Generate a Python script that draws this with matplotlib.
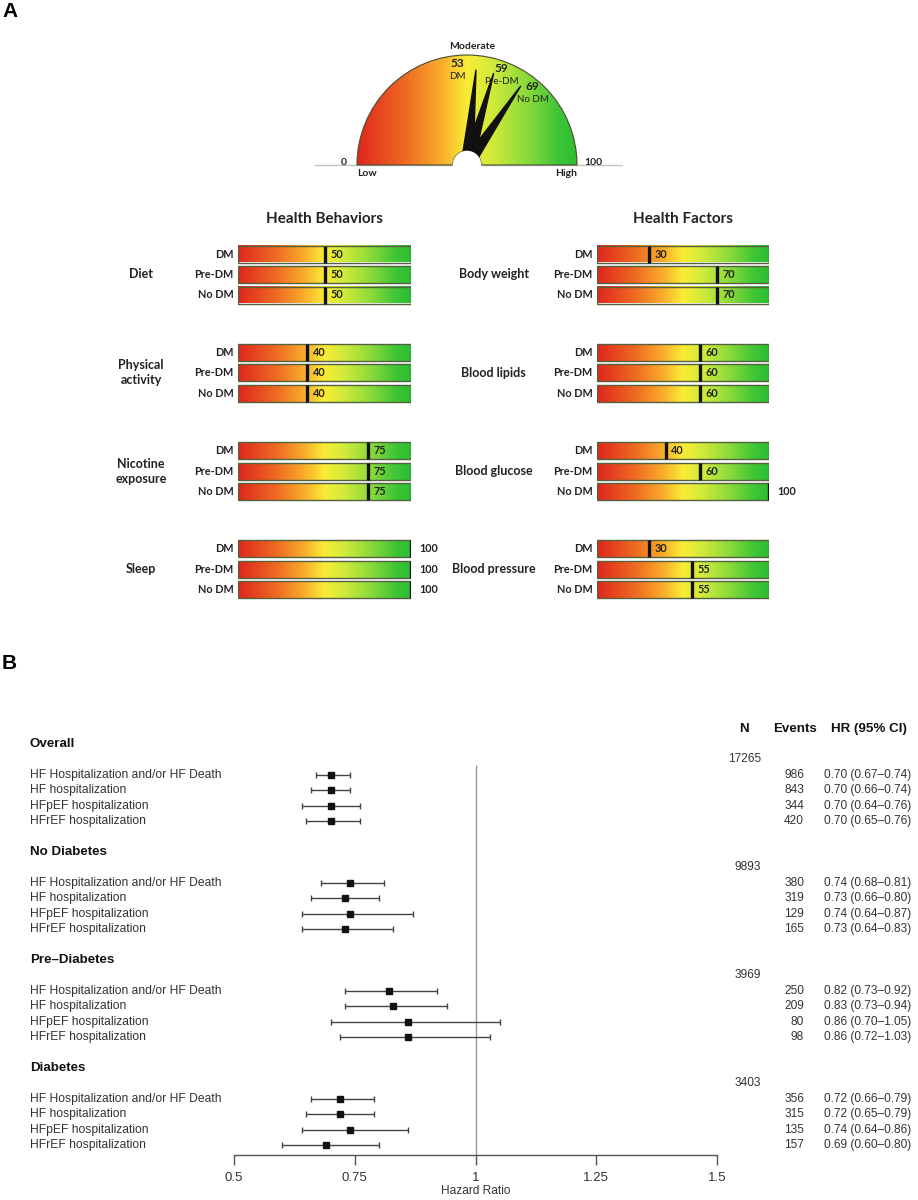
import numpy as np
import matplotlib
matplotlib.use('Agg')
import matplotlib.pyplot as plt
import matplotlib.transforms as mtransforms
from matplotlib.colors import LinearSegmentedColormap
from matplotlib.patches import Wedge, Circle

plt.rcParams['font.family'] = ['Liberation Sans', 'DejaVu Sans']

# panel A data
groups = ['DM', 'Pre-DM', 'No DM']
gauge_scores = [53, 59, 69]

behaviors = ['Diet', 'Physical\nactivity', 'Nicotine\nexposure', 'Sleep']
behavior_scores = [[50, 50, 50], [40, 40, 40], [75, 75, 75], [100, 100, 100]]

factors = ['Body weight', 'Blood lipids', 'Blood glucose', 'Blood pressure']
factor_scores = [[30, 70, 70], [60, 60, 60], [40, 60, 100], [30, 55, 55]]

# panel B data
sections = ['Overall', 'No Diabetes', 'Pre–Diabetes', 'Diabetes']
section_n = [17265, 9893, 3969, 3403]
outcomes = ['HF Hospitalization and/or HF Death', 'HF hospitalization',
            'HFpEF hospitalization', 'HFrEF hospitalization']
hr = [[0.70, 0.70, 0.70, 0.70], [0.74, 0.73, 0.74, 0.73],
      [0.82, 0.83, 0.86, 0.86], [0.72, 0.72, 0.74, 0.69]]
hr_lo = [[0.67, 0.66, 0.64, 0.65], [0.68, 0.66, 0.64, 0.64],
         [0.73, 0.73, 0.70, 0.72], [0.66, 0.65, 0.64, 0.60]]
hr_hi = [[0.74, 0.74, 0.76, 0.76], [0.81, 0.80, 0.87, 0.83],
         [0.92, 0.94, 1.05, 1.03], [0.79, 0.79, 0.86, 0.80]]
events = [[986, 843, 344, 420], [380, 319, 129, 165],
          [250, 209, 80, 98], [356, 315, 135, 157]]
hr_ticks = [0.5, 0.75, 1, 1.25, 1.5]

W, H = 918, 1200
fig = plt.figure(figsize=(W / 100, H / 100), dpi=100)


def box(x0, y0, x1, y1):
    # axes placed by pixel box, y measured from the top
    return fig.add_axes([x0 / W, 1 - y1 / H, (x1 - x0) / W, (y1 - y0) / H])


cmap = LinearSegmentedColormap.from_list('score', [
    (0.0, '#df261d'), (0.22, '#ee6a22'), (0.38, '#f9ab2c'), (0.5, '#faec36'),
    (0.62, '#cfea3a'), (0.78, '#86d93a'), (0.92, '#3cc536'), (1.0, '#2dbd33')])
grad = np.linspace(0, 1, 256).reshape(1, -1)
lato = dict(family=['Lato', 'DejaVu Sans'], color='#222222')

fig.text(2 / W, 1 - 2 / H, 'A', fontsize=15, fontweight='bold', va='top', ha='left')
fig.text(2 / W, 1 - 654 / H, 'B', fontsize=15, fontweight='bold', va='top', ha='left')

# ---- gauge ----
gax = box(307, 35, 627, 185)
gax.set_xlim(-160 / 110, 160 / 110)
gax.set_ylim(-20 / 110, 130 / 110)
gax.axis('off')
gax.axhline(0, xmin=0.025, xmax=0.985, color='#c4c4c4', lw=1, zorder=0)
ring = Wedge((0, 0), 1, 0, 180, width=0.87, transform=gax.transData)
img = gax.imshow(grad, cmap=cmap, extent=(-1, 1, 0, 1), aspect='auto', origin='lower', zorder=1)
img.set_clip_path(ring)
gax.add_patch(Wedge((0, 0), 1, 0, 180, width=0.87, fill=False, edgecolor='#4a4a30', lw=0.8, zorder=2))

label_shift = [11, -3.4, -5.6]
for v, grp, sh in zip(gauge_scores, groups, label_shift):
    a = np.deg2rad(180 - 1.8 * v)
    tip = 0.87 * np.array([np.cos(a), np.sin(a)])
    perp = 0.055 * np.array([np.sin(a), -np.cos(a)])
    pts = np.array([tip, perp, -perp])
    gax.fill(pts[:, 0], pts[:, 1], color='#111111', zorder=3)
    b = np.deg2rad(180 - 1.8 * v + sh)
    lx, ly = 0.93 * np.cos(b), 0.93 * np.sin(b)
    gax.text(lx, ly, str(v), ha='center', va='center', fontsize=8.5, fontweight='bold', **lato)
    gax.text(lx, ly - 0.12, grp, ha='center', va='center', fontsize=7, **lato)
gax.add_patch(Circle((0, 0), 0.13, facecolor='white', edgecolor='none', zorder=4))

gax.text(-1.09, 0.02, '0', ha='right', va='center', fontsize=7.5, fontweight='bold', **lato)
gax.text(1.07, 0.02, '100', ha='left', va='center', fontsize=7.5, fontweight='bold', **lato)
gax.text(-1.0, -0.08, 'Low', ha='left', va='center', fontsize=7.5, fontweight='bold', **lato)
gax.text(1.0, -0.08, 'High', ha='right', va='center', fontsize=7.5, fontweight='bold', **lato)
gax.text(0.05, 1.08, 'Moderate', ha='center', va='center', fontsize=7.5, fontweight='bold', **lato)


# ---- score bars ----
def bar_column(x0, x1, title, domains, scores, dom_x):
    ax = box(x0, 230, x1, 610)
    for g, (dom, vals) in enumerate(zip(domains, scores)):
        top = 254 + g * 98.3
        for r, (grp, v) in enumerate(zip(groups, vals)):
            y = top + r * 20.5
            ax.imshow(grad, cmap=cmap, extent=(0, 100, y + 8.5, y - 8.5), aspect='auto')
            ax.barh(y, 100, height=17, fill=False, edgecolor='#55603f', lw=1)
            ax.vlines(v, y - 8.5, y + 8.5, color='#111111', lw=2.4)
            off = 4 if v < 100 else 6
            ax.annotate(str(v), (v, y), xytext=(off, 0), textcoords='offset points',
                        ha='left', va='center', fontsize=7.8, fontweight='bold', **lato)
            ax.text(-2.5, y, grp, ha='right', va='center', fontsize=7.8, fontweight='bold', **lato)
        ax.text(dom_x, top + 20.5, dom, ha='center', va='center', fontsize=9,
                fontweight='bold', linespacing=1.3, **lato)
    ax.text(50, 219, title, ha='center', va='center', fontsize=11, fontweight='bold', **lato)
    ax.set_xlim(0, 100)
    ax.set_ylim(610, 230)
    ax.axis('off')


bar_column(238, 411, 'Health Behaviors', behaviors, behavior_scores, -56)
bar_column(597, 769, 'Health Factors', factors, factor_scores, -60)

# ---- forest plot ----
fax = box(234, 700, 717, 1155)
fax.set_xlim(0.5, 1.5)
fax.set_ylim(26.64, -2.85)
trans = mtransforms.blended_transform_factory(fig.transFigure, fax.transData)

fax.vlines(1, 1.36, 26.64, color='#9a9a9a', lw=1, zorder=0)
for s, name in enumerate(sections):
    base = 7 * s
    fax.text(30 / W, base, name, transform=trans, ha='left', va='center',
             fontsize=9.6, fontweight='bold', color='#111111')
    fax.text(761 / W, base + 1, str(section_n[s]), transform=trans, ha='right',
             va='center', fontsize=8.6, color='#333333')
    ys = base + 2 + np.arange(4)
    h = np.array(hr[s])
    fax.errorbar(h, ys, xerr=[h - np.array(hr_lo[s]), np.array(hr_hi[s]) - h],
                 fmt='s', color='#111111', ecolor='#444444', elinewidth=1,
                 capsize=2, capthick=1, markersize=5)
    for i, out in enumerate(outcomes):
        fax.text(30 / W, ys[i], out, transform=trans, ha='left', va='center',
                 fontsize=8.7, color='#333333')
        fax.text(804 / W, ys[i], str(events[s][i]), transform=trans, ha='right',
                 va='center', fontsize=8.6, color='#333333')
        fax.text(824 / W, ys[i], f'{hr[s][i]:.2f} ({hr_lo[s][i]:.2f}–{hr_hi[s][i]:.2f})',
                 transform=trans, ha='left', va='center', fontsize=8.6, color='#333333')

for x, lab in [(744, 'N'), (795, 'Events'), (869, 'HR (95% CI)')]:
    fax.text(x / W, -0.97, lab, transform=trans, ha='center', va='center',
             fontsize=9.6, fontweight='bold', color='#111111')

for side in ['top', 'left', 'right']:
    fax.spines[side].set_visible(False)
fax.spines['bottom'].set_color('#555555')
fax.spines['bottom'].set_linewidth(1)
fax.set_yticks([])
fax.set_xticks(hr_ticks)
fax.set_xticklabels([f'{t:g}' for t in hr_ticks])
fax.tick_params(axis='x', length=7, width=1, color='#555555', labelsize=9.5,
                labelcolor='#333333', pad=5)
fax.set_xlabel('Hazard Ratio', fontsize=8.6, color='#333333', labelpad=1)
fax.patch.set_visible(False)

fig.savefig('out.png', dpi=100)
